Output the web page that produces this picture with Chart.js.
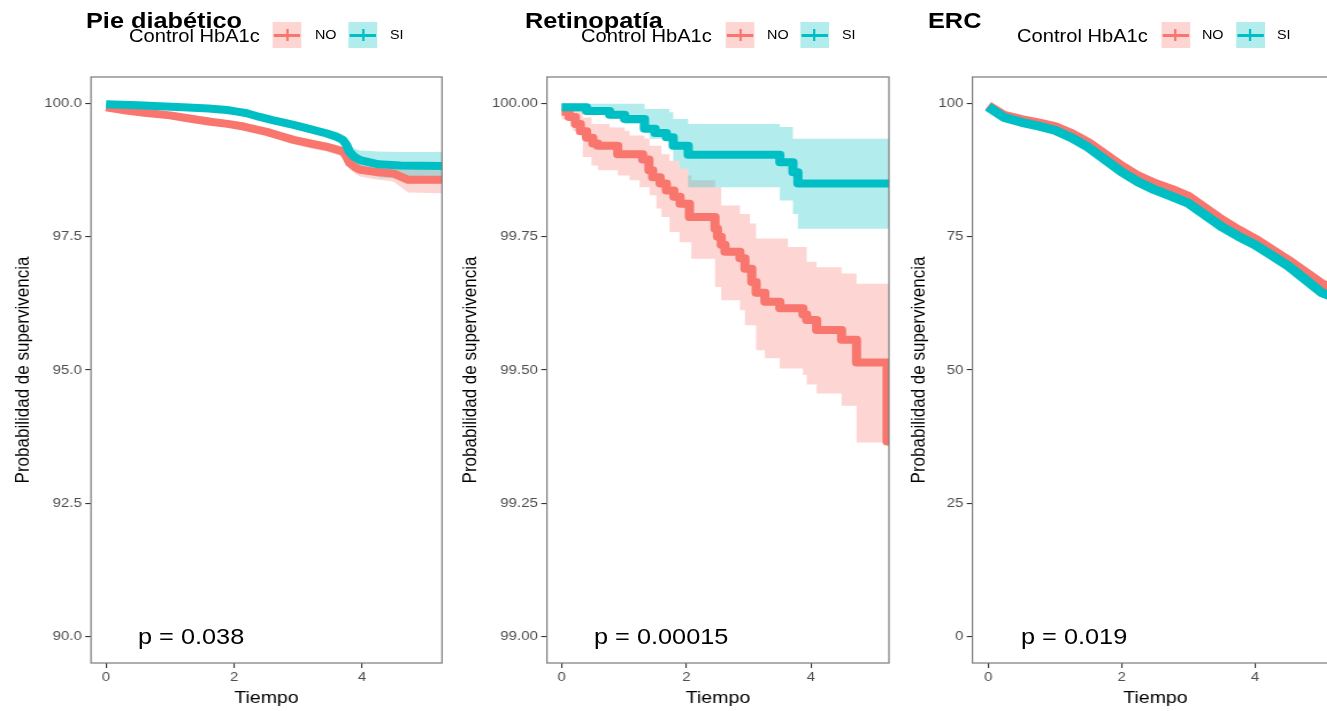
<!DOCTYPE html>
<html>
<head>
<meta charset="utf-8">
<script src="https://cdn.jsdelivr.net/npm/chart.js@4.4.1/dist/chart.umd.min.js"></script>
<style>
  html, body { margin: 0; padding: 0; background: #fff; overflow: hidden; width: 1327px; height: 711px; }
  #stage { position: absolute; left: 0; top: 0; width: 1200px; height: 711px;
           transform: scaleX(1.15); transform-origin: 0 0;
           font-family: 'Liberation Sans', Arial, sans-serif; }
  #stage canvas { position: absolute; top: 0; }
  .txt { position: absolute; white-space: nowrap; line-height: 1; color: #000; }
  .title { font-weight: bold; font-size: 22px; top: 9.7px; }
  .legtitle { font-size: 17.5px; top: 27.9px; }
  .leglabel { font-size: 12.5px; top: 29.4px; }
  .pval { font-size: 22px; top: 625.5px; }
  .legkey { position: absolute; width: 25px; height: 26px; top: 22px; }
</style>
</head>
<body>
<div id="stage"></div>
<script>
// the reference is stretched horizontally, so the whole stage is scaled in x
const STRETCH = 1.15;

const RED = '#F8766D';
const TEAL = '#00BFC4';
const RED_FILL = 'rgba(248,118,109,0.3)';
const TEAL_FILL = 'rgba(0,191,196,0.3)';

// shared labels
const groups = ['NO', 'SI'];
const legendTitle = 'Control HbA1c';
const xLabel = 'Tiempo';
const yLabel = 'Probabilidad de supervivencia';
const xTicks = [0, 2, 4];
const xTickLabels = ['0', '2', '4'];

// Pie diabetico
const pieTitle = 'Pie diabético';
const piePValue = 'p = 0.038';
const pieYTicks = [90, 92.5, 95, 97.5, 100];
const pieYLabels = ['90.0', '92.5', '95.0', '97.5', '100.0'];
const pieNoTime = [0, 0.32, 0.6, 1.0, 1.3, 1.63, 1.9, 2.15, 2.51, 2.7, 2.93, 3.2, 3.45, 3.71, 3.76, 3.81, 3.9, 3.97, 4.2, 4.49, 4.72, 5.25];
const pieNoSurv = [99.93, 99.87, 99.83, 99.78, 99.72, 99.66, 99.62, 99.57, 99.47, 99.4, 99.32, 99.25, 99.19, 99.1, 99.0, 98.88, 98.8, 98.76, 98.72, 98.69, 98.57, 98.57];
const pieNoHi = [99.96, 99.9, 99.87, 99.82, 99.77, 99.71, 99.67, 99.63, 99.53, 99.47, 99.39, 99.33, 99.27, 99.19, 99.09, 98.98, 98.91, 98.88, 98.85, 98.83, 98.8, 98.8];
const pieNoLo = [99.9, 99.83, 99.79, 99.73, 99.67, 99.6, 99.56, 99.5, 99.4, 99.32, 99.24, 99.16, 99.1, 99.0, 98.9, 98.77, 98.68, 98.63, 98.58, 98.54, 98.33, 98.32];
const pieSiTime = [0, 0.5, 0.84, 1.2, 1.6, 1.89, 2.05, 2.2, 2.4, 2.6, 2.93, 3.19, 3.45, 3.6, 3.7, 3.76, 3.8, 3.88, 3.97, 4.26, 4.6, 5.25];
const pieSiSurv = [99.99, 99.97, 99.95, 99.93, 99.91, 99.88, 99.85, 99.82, 99.75, 99.69, 99.6, 99.52, 99.44, 99.38, 99.32, 99.22, 99.1, 99.0, 98.94, 98.86, 98.84, 98.83];
const pieSiHi = [100.0, 99.99, 99.97, 99.96, 99.94, 99.91, 99.89, 99.86, 99.8, 99.74, 99.66, 99.59, 99.52, 99.47, 99.42, 99.34, 99.24, 99.16, 99.12, 99.1, 99.09, 99.09];
const pieSiLo = [99.97, 99.95, 99.93, 99.9, 99.88, 99.85, 99.81, 99.78, 99.7, 99.64, 99.54, 99.45, 99.36, 99.29, 99.22, 99.1, 98.96, 98.84, 98.74, 98.62, 98.59, 98.58];

// Retinopatia
const retTitle = 'Retinopatía';
const retPValue = 'p = 0.00015';
const retYTicks = [99, 99.25, 99.5, 99.75, 100];
const retYLabels = ['99.00', '99.25', '99.50', '99.75', '100.00'];
const retNoTime = [0, 0.12, 0.22, 0.30, 0.40, 0.50, 0.58, 0.90, 1.30, 1.40, 1.46, 1.58, 1.68, 1.80, 1.90, 2.05, 2.46, 2.50, 2.56, 2.62, 2.86, 2.94, 3.05, 3.12, 3.26, 3.50, 3.87, 3.93, 4.09, 4.49, 4.73, 5.22, 5.25];
const retNoSurv = [99.985, 99.975, 99.962, 99.948, 99.936, 99.925, 99.921, 99.905, 99.895, 99.875, 99.862, 99.85, 99.837, 99.825, 99.812, 99.787, 99.765, 99.75, 99.735, 99.722, 99.71, 99.69, 99.665, 99.645, 99.628, 99.616, 99.604, 99.594, 99.575, 99.557, 99.514, 99.366, 99.366];
const retNoHiTime = [0, 0.18, 0.34, 0.48, 0.77, 1.01, 1.09, 1.33, 1.41, 1.60, 1.73, 1.89, 2.03, 2.08, 2.46, 2.56, 2.86, 3.02, 3.12, 3.63, 3.93, 4.09, 4.49, 4.73, 5.25];
const retNoHi = [100.0, 99.99, 99.974, 99.962, 99.955, 99.949, 99.94, 99.934, 99.921, 99.905, 99.893, 99.878, 99.865, 99.856, 99.843, 99.809, 99.793, 99.775, 99.747, 99.731, 99.703, 99.693, 99.681, 99.662, 99.662];
const retNoLoTime = [0, 0.18, 0.34, 0.48, 0.58, 0.90, 1.09, 1.25, 1.41, 1.52, 1.60, 1.73, 1.89, 2.08, 2.46, 2.56, 2.86, 2.94, 3.12, 3.26, 3.50, 3.87, 3.93, 4.09, 4.49, 4.73, 5.25];
const retNoLo = [99.97, 99.949, 99.9, 99.884, 99.875, 99.865, 99.856, 99.843, 99.828, 99.803, 99.787, 99.759, 99.74, 99.709, 99.656, 99.631, 99.612, 99.584, 99.537, 99.522, 99.503, 99.491, 99.473, 99.456, 99.433, 99.364, 99.364];
const retSiTime = [0, 0.40, 0.77, 1.01, 1.33, 1.50, 1.68, 1.79, 2.03, 3.50, 3.71, 3.79, 5.25];
const retSiSurv = [99.993, 99.986, 99.979, 99.971, 99.953, 99.945, 99.937, 99.921, 99.904, 99.89, 99.871, 99.85, 99.85];
const retSiHiTime = [0, 1.33, 1.73, 1.79, 2.03, 3.50, 3.71, 5.25];
const retSiHi = [100.0, 99.99, 99.984, 99.971, 99.962, 99.956, 99.934, 99.934];
const retSiLoTime = [0, 0.34, 0.77, 1.01, 1.25, 1.41, 1.73, 1.79, 1.89, 2.03, 3.50, 3.71, 3.79, 5.25];
const retSiLo = [99.985, 99.981, 99.971, 99.962, 99.949, 99.934, 99.921, 99.893, 99.878, 99.843, 99.818, 99.793, 99.765, 99.765];

// ERC
const ercTitle = 'ERC';
const ercPValue = 'p = 0.019';
const ercYTicks = [0, 25, 50, 75, 100];
const ercYLabels = ['0', '25', '50', '75', '100'];
const ercTime = [0, 0.24, 0.5, 0.75, 1.0, 1.25, 1.5, 1.75, 2.0, 2.25, 2.5, 2.75, 3.0, 3.25, 3.5, 3.75, 4.0, 4.25, 4.5, 4.75, 5.0, 5.25];
const ercNoSurv = [99.6, 97.8, 97.0, 96.4, 95.7, 94.4, 92.7, 90.5, 88.3, 86.4, 85.0, 83.9, 82.6, 80.4, 78.2, 76.3, 74.6, 72.6, 70.6, 68.4, 66.2, 64.9];
const ercSiSurv = [99.4, 97.4, 96.5, 95.8, 95.0, 93.6, 91.8, 89.5, 87.2, 85.3, 83.8, 82.6, 81.3, 79.1, 76.9, 75.1, 73.5, 71.5, 69.5, 67.0, 64.5, 63.3];

const panels = [
  {
    // many small steps here, so drawn as a smooth trace
    title: pieTitle, p: piePValue, yTicks: pieYTicks, yLabels: pieYLabels, yMin: 89.5, yMax: 100.5, stepped: false,
    no: { time: pieNoTime, surv: pieNoSurv, hiTime: pieNoTime, hi: pieNoHi, loTime: pieNoTime, lo: pieNoLo },
    si: { time: pieSiTime, surv: pieSiSurv, hiTime: pieSiTime, hi: pieSiHi, loTime: pieSiTime, lo: pieSiLo },
    // screen positions (px in the final picture)
    box: { cx0: 0, cx1: 452, px0: 91, px1: 442, yTitleX: 23, titleX: 86, legX: 129, noKeyX: 273, noX: 315, siKeyX: 349, siX: 390, pX: 138, lineW: 8 }
  },
  {
    title: retTitle, p: retPValue, yTicks: retYTicks, yLabels: retYLabels, yMin: 98.95, yMax: 100.05, stepped: true,
    no: { time: retNoTime, surv: retNoSurv, hiTime: retNoHiTime, hi: retNoHi, loTime: retNoLoTime, lo: retNoLo },
    si: { time: retSiTime, surv: retSiSurv, hiTime: retSiHiTime, hi: retSiHi, loTime: retSiLoTime, lo: retSiLo },
    box: { cx0: 452, cx1: 900, px0: 547, px1: 889, yTitleX: 471, titleX: 525, legX: 581, noKeyX: 726, noX: 767, siKeyX: 800, siX: 842, pX: 594, lineW: 8 }
  },
  {
    title: ercTitle, p: ercPValue, yTicks: ercYTicks, yLabels: ercYLabels, yMin: -5, yMax: 105, stepped: false,
    no: { time: ercTime, surv: ercNoSurv },
    si: { time: ercTime, surv: ercSiSurv },
    box: { cx0: 900, cx1: 1350, px0: 972, px1: 1338, yTitleX: 919, titleX: 928, legX: 1017, noKeyX: 1161, noX: 1202, siKeyX: 1236, siX: 1277, pX: 1021, lineW: 9 }
  }
];

Chart.defaults.font.family = "'Liberation Sans', Arial, sans-serif";

const stage = document.getElementById('stage');

function pts(t, v) {
  return t.map((x, i) => ({ x: x, y: v[i] }));
}

function addText(str, cls, xScreen) {
  const el = document.createElement('div');
  el.className = 'txt ' + cls;
  el.textContent = str;
  el.style.left = (xScreen / STRETCH) + 'px';
  stage.appendChild(el);
}

function addKey(xScreen, color, fill) {
  const box = document.createElement('div');
  box.className = 'legkey';
  box.style.left = (xScreen / STRETCH) + 'px';
  box.style.background = fill;
  const line = document.createElement('div');
  line.style.cssText = 'position:absolute;left:1px;right:1px;top:11.5px;height:3px;background:' + color;
  const tick = document.createElement('div');
  tick.style.cssText = 'position:absolute;left:11.5px;width:2px;top:7px;height:12px;background:' + color;
  box.append(line, tick);
  stage.appendChild(box);
}

// grey frame round the panel, like the ggplot border
const panelBorder = {
  id: 'panelBorder',
  afterDraw(chart) {
    const { ctx, chartArea: a } = chart;
    ctx.save();
    ctx.strokeStyle = '#7a7a7a';
    ctx.lineWidth = 1.2;
    ctx.strokeRect(a.left, a.top, a.right - a.left, a.bottom - a.top);
    ctx.restore();
  }
};

function bandSets(g, fill, order, stepped) {
  if (!g.hi) return [];
  return [
    { data: pts(g.hiTime, g.hi), fill: '+1', backgroundColor: fill, borderColor: 'transparent', borderWidth: 0,
      pointRadius: 0, stepped: stepped, order: order, clip: 0 },
    { data: pts(g.loTime, g.lo), fill: false, borderColor: 'transparent', borderWidth: 0,
      pointRadius: 0, stepped: stepped, order: order, clip: 0 }
  ];
}

panels.forEach(p => {
  const b = p.box;
  const left = b.cx0 / STRETCH;
  const width = Math.round((b.cx1 - b.cx0) / STRETCH);
  const yAxisW = (b.px0 - b.cx0) / STRETCH;
  const padRight = left + width - b.px1 / STRETCH;
  const yTitlePad = (b.yTitleX / STRETCH - left) - 17 * 1.2 / 2;

  const canvas = document.createElement('canvas');
  canvas.width = width;
  canvas.height = 711;
  canvas.style.left = left + 'px';
  canvas.style.width = width + 'px';
  canvas.style.height = '711px';
  stage.appendChild(canvas);

  const datasets = [
    ...bandSets(p.no, RED_FILL, 4, p.stepped),
    ...bandSets(p.si, TEAL_FILL, 3, p.stepped),
    { label: groups[0], data: pts(p.no.time, p.no.surv), borderColor: RED, borderWidth: b.lineW,
      pointRadius: 0, fill: false, stepped: p.stepped, order: 2, clip: 0 },
    { label: groups[1], data: pts(p.si.time, p.si.surv), borderColor: TEAL, borderWidth: b.lineW,
      pointRadius: 0, fill: false, stepped: p.stepped, order: 1, clip: 0 }
  ];

  new Chart(canvas.getContext('2d'), {
    type: 'line',
    data: { datasets: datasets },
    options: {
      responsive: false,
      animation: false,
      events: [],
      layout: { padding: { left: 0, top: 77, right: padRight, bottom: 0 } },
      plugins: { legend: { display: false }, tooltip: { enabled: false } },
      elements: { line: { tension: 0, borderCapStyle: 'butt', borderJoinStyle: 'round' } },
      scales: {
        x: {
          type: 'linear', min: -0.235, max: 5.25,
          afterBuildTicks: s => { s.ticks = xTicks.map(v => ({ value: v })); },
          afterFit: s => { s.height = 48; },
          grid: { display: true, drawOnChartArea: false, drawTicks: true, tickLength: 5, color: '#333333', lineWidth: 1.1 },
          border: { display: false },
          ticks: { autoSkip: false, maxRotation: 0, padding: 2, color: '#4d4d4d', font: { size: 13 },
                   callback: (v, i) => xTickLabels[i] },
          title: { display: true, text: xLabel, color: '#000', font: { size: 17 }, padding: { top: 0, bottom: 2 } }
        },
        y: {
          type: 'linear', min: p.yMin, max: p.yMax,
          afterBuildTicks: s => { s.ticks = p.yTicks.map(v => ({ value: v })); },
          afterFit: s => { s.width = yAxisW; },
          grid: { display: true, drawOnChartArea: false, drawTicks: true, tickLength: 5, color: '#333333', lineWidth: 1.1 },
          border: { display: false },
          ticks: { autoSkip: false, padding: 3, color: '#4d4d4d', font: { size: 13 },
                   callback: (v, i) => p.yLabels[i] },
          title: { display: true, text: yLabel, color: '#000', font: { size: 17 }, padding: { top: yTitlePad, bottom: 0 } }
        }
      }
    },
    plugins: [panelBorder]
  });

  addText(p.title, 'title', b.titleX);
  addText(legendTitle, 'legtitle', b.legX);
  addKey(b.noKeyX, RED, RED_FILL);
  addText(groups[0], 'leglabel', b.noX);
  addKey(b.siKeyX, TEAL, TEAL_FILL);
  addText(groups[1], 'leglabel', b.siX);
  addText(p.p, 'pval', b.pX);
});
</script>
</body>
</html>
